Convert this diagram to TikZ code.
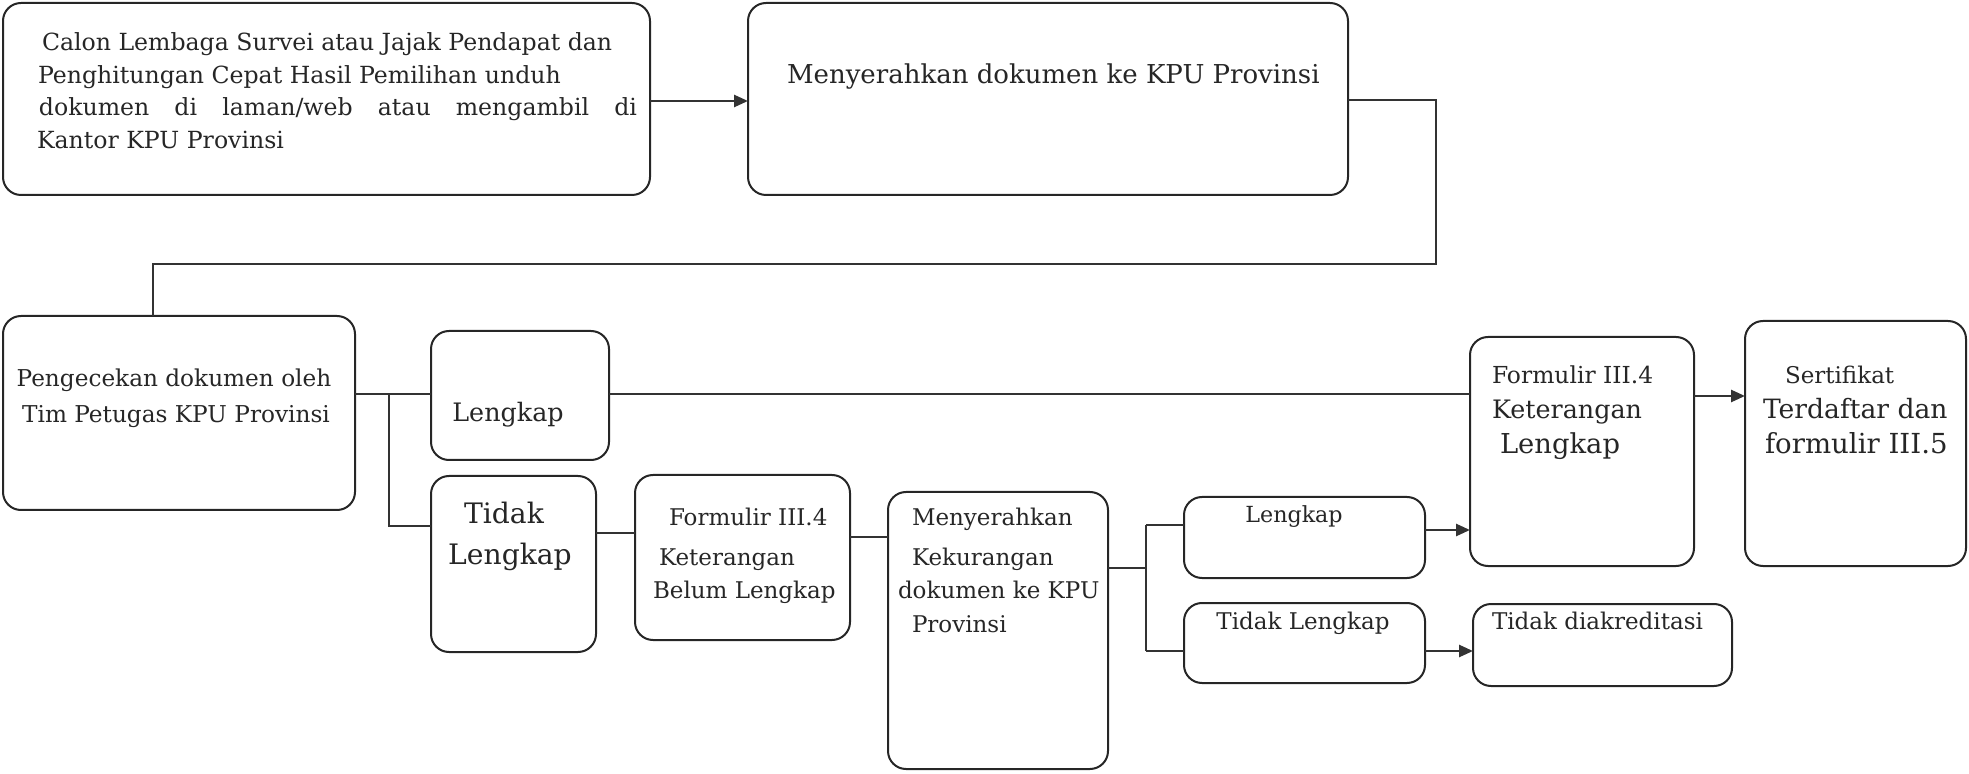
\documentclass[tikz,border=0pt]{standalone}
\usepackage{fontspec}
\setmainfont{DejaVu Serif}
\usetikzlibrary{arrows.meta,fit}
\newcommand{\fs}[1]{\fontsize{#1}{#1}\selectfont}
\begin{document}
\begin{tikzpicture}[x=0.5pt,y=-0.5pt,
 box/.style={draw=black!85, line width=1pt, rounded corners=9pt, inner sep=0pt, outer sep=0pt},
 txt/.style={inner sep=0pt, outer sep=0pt, anchor=mid west, text=black!85},
 ctxt/.style={inner sep=0pt, outer sep=0pt, anchor=mid, text=black!85},
 link/.style={draw=black!80, line width=0.8pt},
 arr/.style={draw=black!80, line width=1.3pt, -{Triangle[length=7pt,width=6pt]}},
]
\useasboundingbox (0,0) rectangle (1969,774);
% boxes
\node[box, fit={(3,3)(650,195)}] (b1) {};
\node[box, fit={(748,3)(1348,195)}] (b2) {};
\node[box, fit={(3,316)(355,510)}] (b3) {};
\node[box, fit={(431,331)(609,460)}] (b4) {};
\node[box, fit={(431,476)(596,652)}] (b5) {};
\node[box, fit={(635,475)(850,640)}] (b6) {};
\node[box, fit={(888,492)(1108,769)}] (b7) {};
\node[box, fit={(1184,497)(1425,578)}] (b8) {};
\node[box, fit={(1184,603)(1425,683)}] (b9) {};
\node[box, fit={(1473,604)(1732,686)}] (b10) {};
\node[box, fit={(1470,337)(1694,566)}] (b11) {};
\node[box, fit={(1745,321)(1966,566)}] (b12) {};
% texts
\node[txt, font=\fs{11.8}] (t1a) at (42,45) {Calon Lembaga Survei atau Jajak Pendapat dan};
\node[txt, font=\fs{11.8}] (t1b) at (38,78) {Penghitungan Cepat Hasil Pemilihan unduh};
\node[txt, font=\fs{11.8}] (t1c) at (39,110) {\makebox[299pt][s]{dokumen di laman/web atau mengambil di}};
\node[txt, font=\fs{11.8}] (t1d) at (37,143) {Kantor KPU Provinsi};
\node[txt, font=\fs{13}] (t2) at (787,78) {Menyerahkan dokumen ke KPU Provinsi};
\node[ctxt, font=\fs{11.6}] (t3a) at (174,381) {Pengecekan dokumen oleh};
\node[ctxt, font=\fs{11.6}] (t3b) at (176,417) {Tim Petugas KPU Provinsi};
\node[ctxt, font=\fs{12.7}] (t4) at (508,416) {Lengkap};
\node[ctxt, font=\fs{14.1}] (t5a) at (504,518) {Tidak};
\node[ctxt, font=\fs{14.1}] (t5b) at (510,559) {Lengkap};
\node[txt, font=\fs{11.5}] (t6a) at (669,520) {Formulir III.4};
\node[txt, font=\fs{11.5}] (t6b) at (659,560) {Keterangan};
\node[txt, font=\fs{11.5}] (t6c) at (653,593) {Belum Lengkap};
\node[txt, font=\fs{11.5}] (t7a) at (912,520) {Menyerahkan};
\node[txt, font=\fs{11.5}] (t7b) at (912,560) {Kekurangan};
\node[txt, font=\fs{11.5}] (t7c) at (898,593) {dokumen ke KPU};
\node[txt, font=\fs{11.5}] (t7d) at (912,627) {Provinsi};
\node[ctxt, font=\fs{11.1}] (t8) at (1294,517) {Lengkap};
\node[ctxt, font=\fs{11.5}] (t9) at (1303,624) {Tidak Lengkap};
\node[txt, font=\fs{11.5}] (t10) at (1492,624) {Tidak diakreditasi};
\node[txt, font=\fs{11.7}] (t11a) at (1492,378) {Formulir III.4};
\node[txt, font=\fs{12.7}] (t11b) at (1492,413) {Keterangan};
\node[txt, font=\fs{13.7}] (t11c) at (1500,448) {Lengkap};
\node[txt, font=\fs{11.5}] (t12a) at (1785,378) {Sertifikat};
\node[txt, font=\fs{13.3}] (t12b) at (1763,413) {Terdaftar dan};
\node[txt, font=\fs{13.8}] (t12c) at (1765,448) {formulir III.5};
% connectors
\coordinate (c1) at (1436,100);
\coordinate (c2) at (1436,264);
\coordinate (c3) at (153,264);
\coordinate (j1) at (389,394);
\coordinate (j2) at (389,526);
\coordinate (j3) at (1146,568);
\coordinate (j4) at (1146,525);
\coordinate (j5) at (1146,651);
\draw[arr] (b1.east |- 0,101) -- (b2.west |- 0,101);
\draw[link] (b2.east |- c1) -- (c1) -- (c2) -- (c3) -- (b3.north -| c3);
\draw[link] (b3.east |- j1) -- (b4.west |- j1);
\draw[link] (j1) -- (j2) -- (b5.west |- j2);
\draw[link] (b4.east |- j1) -- (b11.west |- j1);
\draw[link] (b5.east |- 0,533) -- (b6.west |- 0,533);
\draw[link] (b6.east |- 0,537) -- (b7.west |- 0,537);
\draw[link] (b7.east |- j3) -- (j3);
\draw[link] (j4) -- (j5);
\draw[link] (j4) -- (b8.west |- j4);
\draw[link] (j5) -- (b9.west |- j5);
\draw[arr] (b8.east |- 0,530) -- (b11.west |- 0,530);
\draw[arr] (b9.east |- j5) -- (b10.west |- j5);
\draw[arr] (b11.east |- 0,396) -- (b12.west |- 0,396);
\end{tikzpicture}
\end{document}
